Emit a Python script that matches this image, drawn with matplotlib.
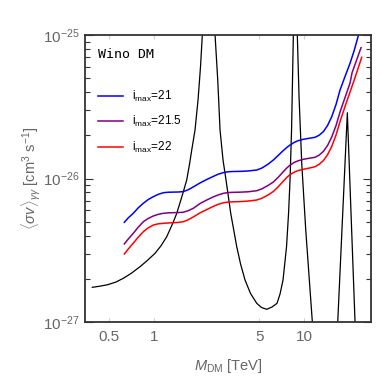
import numpy as np
import matplotlib
matplotlib.use('Agg')
import matplotlib.pyplot as plt
from matplotlib.ticker import FixedLocator, NullFormatter

plt.rcParams['font.family'] = 'Liberation Sans'
plt.rcParams['mathtext.fontset'] = 'custom'
plt.rcParams['mathtext.rm'] = 'Liberation Sans'
plt.rcParams['mathtext.it'] = 'Liberation Sans:italic'
plt.rcParams['mathtext.bf'] = 'Liberation Sans:bold'

# M_DM [TeV] grid shared by the three i_max curves (last point differs)
m_grid = [0.631, 0.668, 0.724, 0.779, 0.845, 0.908, 0.985, 1.058, 1.148, 1.234,
          1.339, 1.439, 1.561, 1.678, 1.820, 2.017, 2.235, 2.462, 2.659, 2.884,
          3.100, 3.347, 3.727, 4.215, 4.817, 5.224, 5.728, 6.215, 6.678, 7.211,
          7.667, 8.03, 8.54, 9.08, 9.85, 10.75, 11.79, 12.53, 13.39, 14.28,
          15.23, 16.27, 17.30, 18.68, 20.17, 21.45]

m_imax21 = m_grid + [22.91]
sv_imax21 = [4.95e-27, 5.30e-27, 5.72e-27, 6.23e-27, 6.72e-27, 7.12e-27, 7.47e-27, 7.74e-27,
             7.96e-27, 8.02e-27, 8.04e-27, 8.05e-27, 8.10e-27, 8.34e-27, 8.74e-27, 9.31e-27,
             9.84e-27, 1.032e-26, 1.070e-26, 1.099e-26, 1.114e-26, 1.119e-26, 1.121e-26,
             1.128e-26, 1.146e-26, 1.184e-26, 1.258e-26, 1.345e-26, 1.444e-26, 1.560e-26,
             1.650e-26, 1.712e-26, 1.782e-26, 1.834e-26, 1.876e-26, 1.906e-26, 1.937e-26,
             2.000e-26, 2.119e-26, 2.340e-26, 2.695e-26, 3.280e-26, 4.137e-26, 5.137e-26,
             6.350e-26, 7.738e-26, 9.89e-26]

m_imax215 = m_grid[:-1] + [20.8, 23.88]
sv_imax215 = [3.50e-27, 3.77e-27, 4.15e-27, 4.56e-27, 5.00e-27, 5.26e-27, 5.48e-27, 5.62e-27,
              5.72e-27, 5.76e-27, 5.78e-27, 5.79e-27, 5.82e-27, 5.96e-27, 6.20e-27, 6.69e-27,
              7.08e-27, 7.43e-27, 7.67e-27, 7.88e-27, 7.98e-27, 8.01e-27, 8.03e-27,
              8.08e-27, 8.22e-27, 8.48e-27, 8.94e-27, 9.45e-27, 1.016e-26, 1.110e-26,
              1.188e-26, 1.238e-26, 1.293e-26, 1.328e-26, 1.361e-26, 1.383e-26, 1.405e-26,
              1.453e-26, 1.543e-26, 1.698e-26, 1.946e-26, 2.340e-26, 2.906e-26, 3.668e-26,
              4.627e-26, 5.45e-26, 8.16e-26]

m_imax22 = m_grid + [24.13]
sv_imax22 = [2.98e-27, 3.21e-27, 3.54e-27, 3.89e-27, 4.26e-27, 4.52e-27, 4.74e-27, 4.83e-27,
             4.87e-27, 4.90e-27, 4.92e-27, 4.94e-27, 5.00e-27, 5.15e-27, 5.40e-27, 5.76e-27,
             6.07e-27, 6.38e-27, 6.60e-27, 6.77e-27, 6.85e-27, 6.88e-27, 6.90e-27,
             6.96e-27, 7.08e-27, 7.29e-27, 7.67e-27, 8.12e-27, 8.72e-27, 9.53e-27,
             1.021e-26, 1.063e-26, 1.106e-26, 1.135e-26, 1.159e-26, 1.181e-26, 1.208e-26,
             1.254e-26, 1.332e-26, 1.463e-26, 1.671e-26, 2.009e-26, 2.495e-26, 3.176e-26,
             4.006e-26, 4.818e-26, 6.99e-26]

# black resonance curve
m_black = [0.386, 0.4345, 0.4913, 0.5556, 0.621, 0.6993, 0.803, 0.901, 1.011, 1.108,
           1.21, 1.327, 1.411, 1.483, 1.561, 1.644, 1.717, 1.776, 1.868, 1.956,
           2.032, 2.089, 2.3, 2.54, 2.647, 2.742, 2.871, 3.006, 3.231, 3.543,
           3.756, 4.025, 4.378, 4.817, 5.184, 5.614, 6.09, 6.577, 6.887, 7.21,
           7.61, 7.85, 8.03, 8.22, 8.34, 8.45, 8.72, 8.98, 9.22, 9.61,
           10.22, 10.8, 11.31, 14.0, 16.7, 19.35, 21.78, 23.0]
sv_black = [1.745e-27, 1.777e-27, 1.822e-27, 1.900e-27, 2.016e-27, 2.178e-27, 2.429e-27,
            2.692e-27, 3.011e-27, 3.396e-27, 3.930e-27, 4.873e-27, 5.72e-27, 6.77e-27,
            8.09e-27, 9.76e-27, 1.262e-26, 1.58e-26, 2.18e-26, 3.52e-26, 6.01e-26,
            1.0e-25, 5e-25, 1.0e-25, 4.86e-26, 2.18e-26, 1.345e-26, 9.76e-27, 5.72e-27,
            3.35e-27, 2.54e-27, 1.96e-27, 1.58e-27, 1.35e-27, 1.262e-27, 1.226e-27,
            1.272e-27, 1.35e-27, 1.567e-27, 1.96e-27, 3.35e-27, 5.72e-27, 9.76e-27,
            2.18e-26, 4.86e-26, 1.0e-25, 5e-25, 1.0e-25, 3.72e-26, 1.276e-26,
            4.38e-27, 1.96e-27, 1.0e-27, 3e-28, 1.0e-27, 2.87e-26, 1.0e-27, 4e-28]

x_ticks = [0.5, 1, 5, 10]
x_ticklabels = ['0.5', '1', '5', '10']
y_ticks = [1e-27, 1e-26, 1e-25]
y_minor = [k * 10.0**p for p in (-27, -26) for k in range(2, 10)]

gray = '#666666'

fig = plt.figure(figsize=(3.82, 3.82), dpi=100)
ax = fig.add_axes([85/382, 1-322/382, 285.7/382, 287/382])

ax.plot(m_black, sv_black, color='black', lw=0.9)
ax.plot(m_imax21, sv_imax21, color='#0000ff', lw=1.1, label=r'i$_{\rm max}$=21')
ax.plot(m_imax215, sv_imax215, color='#800080', lw=1.1, label=r'i$_{\rm max}$=21.5')
ax.plot(m_imax22, sv_imax22, color='#ff0000', lw=1.1, label=r'i$_{\rm max}$=22')

ax.set_xscale('log')
ax.set_yscale('log')
ax.set_xlim(0.345, 27.7)
ax.set_ylim(1e-27, 1e-25)

ax.xaxis.set_major_locator(FixedLocator(x_ticks))
ax.set_xticklabels(x_ticklabels)
ax.xaxis.set_minor_locator(FixedLocator([]))
ax.yaxis.set_major_locator(FixedLocator(y_ticks))
ax.set_yticklabels([r'$10^{-27}$', r'$10^{-26}$', r'$10^{-25}$'])
ax.yaxis.set_minor_locator(FixedLocator(y_minor))
ax.yaxis.set_minor_formatter(NullFormatter())

ax.tick_params(axis='x', which='major', direction='in', top=True, length=3,
               color='#d0d0d0', labelcolor=gray, labelsize=11, pad=6)
ax.tick_params(axis='y', which='major', direction='in', right=True, length=6,
               width=0.8, color='#333333', labelcolor=gray, labelsize=11, pad=4)
ax.tick_params(axis='y', which='minor', direction='in', right=True, length=3.5,
               width=0.8, color='#333333')

for sp in ax.spines.values():
    sp.set_color('#333333')
    sp.set_linewidth(1.3)

ax.set_xlabel(r'$M_{\rm DM}$ [TeV]', color=gray, fontsize=10.5, labelpad=9)
ax.set_ylabel(r'$\langle\sigma v\rangle_{\gamma\gamma}$ [cm$^3$ s$^{-1}$]', color=gray,
              fontsize=10.5, labelpad=0)

ax.text(0.045, 0.955, 'Wino DM', transform=ax.transAxes, family='DejaVu Sans Mono',
        fontsize=9.5, va='top', ha='left', color='black')

leg = ax.legend(loc='upper left', bbox_to_anchor=(0.01, 0.85), frameon=False,
                fontsize=8.5, handlelength=2.1, handletextpad=0.7, labelspacing=0.9)

fig.savefig('out.png', dpi=100)
